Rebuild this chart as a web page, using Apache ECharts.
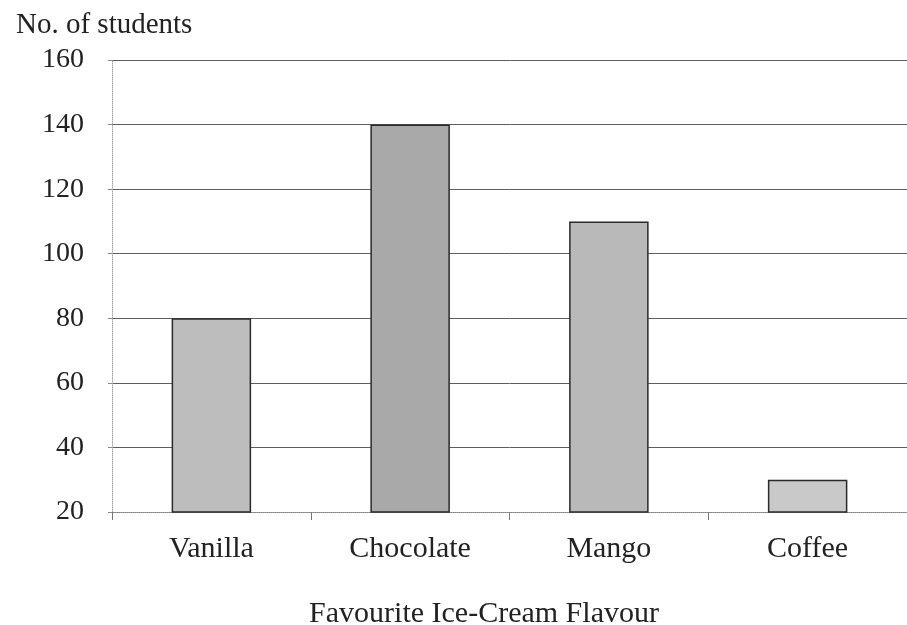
<!DOCTYPE html>
<html>
<head>
<meta charset="utf-8">
<script src="https://cdn.jsdelivr.net/npm/echarts@6/dist/echarts.min.js"></script>
<style>
  html, body { margin: 0; padding: 0; background: #fff; }
  #chart { width: 907px; height: 625px; }
</style>
</head>
<body>
<div id="chart"></div>
<script>
// Favourite ice-cream flavours survey
const flavours = ['Vanilla', 'Chocolate', 'Mango', 'Coffee'];
const students = [80, 140, 110, 30];
const barShades = ['#bdbdbd', '#a9a9a9', '#b9b9b9', '#c9c9c9'];
const yTicks = [20, 40, 60, 80, 100, 120, 140, 160];

const serif = '"Liberation Serif", "DejaVu Serif", serif';
const chart = echarts.init(document.getElementById('chart'));

chart.setOption({
  animation: false,
  backgroundColor: '#ffffff',
  title: [
    {
      text: 'No. of students',
      left: 11, top: 6,
      textStyle: { fontFamily: serif, fontSize: 29, fontWeight: 'normal', color: '#222' }
    },
    {
      text: 'Favourite Ice-Cream Flavour',
      left: 479, top: 594, textAlign: 'center',
      textStyle: { fontFamily: serif, fontSize: 30, fontWeight: 'normal', color: '#222' }
    }
  ],
  // plot area runs 800px wide from x=112, so the last column is clipped by the page edge
  grid: { left: 112, width: 800, top: 60, height: 452, containLabel: false },
  xAxis: {
    type: 'category',
    data: flavours,
    axisLine: { show: true, lineStyle: { color: '#999', type: 'dotted', width: 1 } },
    axisTick: { show: true, length: 8, lineStyle: { color: '#777' } },
    axisLabel: { fontFamily: serif, fontSize: 30, color: '#222', margin: 22 },
    splitLine: { show: false }
  },
  yAxis: {
    type: 'value',
    min: yTicks[0],
    max: yTicks[yTicks.length - 1],
    interval: 20,
    axisLine: { show: true, lineStyle: { color: '#aaa', type: 'dotted', width: 1 } },
    axisTick: { show: true, length: 4, lineStyle: { color: '#888' } },
    axisLabel: { fontFamily: serif, fontSize: 28, color: '#222', margin: 28 },
    splitLine: { show: true, lineStyle: { color: '#5e5e5e', width: 1 } }
  },
  series: [{
    type: 'bar',
    data: students.map((v, i) => ({
      value: v,
      itemStyle: { color: barShades[i] }
    })),
    barWidth: '40%',
    itemStyle: { borderColor: '#2a2a2a', borderWidth: 1.5 }
  }]
});
</script>
</body>
</html>
